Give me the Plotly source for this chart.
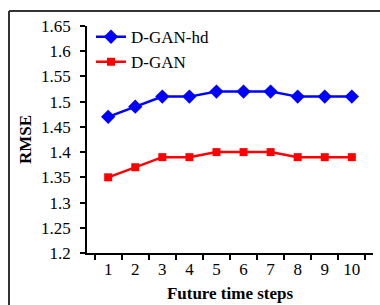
import plotly.graph_objects as go

steps = ["1", "2", "3", "4", "5", "6", "7", "8", "9", "10"]
dgan_hd = [1.47, 1.49, 1.51, 1.51, 1.52, 1.52, 1.52, 1.51, 1.51, 1.51]
dgan = [1.35, 1.37, 1.39, 1.39, 1.40, 1.40, 1.40, 1.39, 1.39, 1.39]
y_ticks = [1.2, 1.25, 1.3, 1.35, 1.4, 1.45, 1.5, 1.55, 1.6, 1.65]
y_ticklabels = ["1.2", "1.25", "1.3", "1.35", "1.4", "1.45", "1.5", "1.55", "1.6", "1.65"]

FONT = "Times New Roman"
FS = 17

fig = go.Figure()
fig.add_trace(go.Scatter(
    x=steps, y=dgan_hd, name="D-GAN-hd", mode="lines+markers",
    line=dict(color="#0000ff", width=2.5),
    marker=dict(symbol="diamond", size=11, color="#0000ff"),
))
fig.add_trace(go.Scatter(
    x=steps, y=dgan, name="D-GAN", mode="lines+markers",
    line=dict(color="#ff0000", width=2.5),
    marker=dict(symbol="square", size=8, color="#ff0000"),
))

L, R, T, B = 87, 7, 26, 52
W, H = 380, 305
pw, ph = W - L - R, H - T - B

def px_x(p):
    return (p - L) / pw

def px_y(p):
    return (H - B - p) / ph

fig.update_layout(
    template="none",
    width=W, height=H,
    margin=dict(l=L, r=R, t=T, b=B, autoexpand=False),
    paper_bgcolor="white", plot_bgcolor="white",
    font=dict(family=FONT, size=FS, color="black"),
    showlegend=True,
    legend=dict(x=0.014, y=1.03, xanchor="left", yanchor="top",
                bgcolor="rgba(0,0,0,0)", font=dict(family=FONT, size=FS),
                tracegroupgap=0, itemwidth=30),
    xaxis=dict(
        type="category", tickson="boundaries", automargin=False,
        showline=True, linecolor="black", linewidth=1.5,
        ticks="outside", ticklen=5, tickcolor="black", tickwidth=1.5,
        showgrid=False, zeroline=False,
        tickfont=dict(family=FONT, size=FS),
        title=dict(text="<b>Future time steps</b>", font=dict(family=FONT, size=FS), standoff=9),
    ),
    yaxis=dict(
        range=[1.2, 1.65], tickvals=y_ticks, ticktext=y_ticklabels, automargin=False,
        showline=True, linecolor="black", linewidth=1.5,
        ticks="outside", ticklen=5, tickcolor="black", tickwidth=1.5,
        showgrid=False, zeroline=False,
        tickfont=dict(family=FONT, size=FS),
        ticklabelstandoff=6,
        title=dict(text="<b>RMSE</b>", font=dict(family=FONT, size=FS), standoff=5),
    ),
)

# outer frame (top and left edges visible)
fig.add_shape(type="line", xref="paper", yref="paper",
              x0=px_x(9), x1=px_x(400), y0=px_y(11), y1=px_y(11),
              line=dict(color="#333333", width=2))
fig.add_shape(type="line", xref="paper", yref="paper",
              x0=px_x(9), x1=px_x(9), y0=px_y(11), y1=px_y(320),
              line=dict(color="#333333", width=2))

fig.write_html("out.html", config={"displayModeBar": False},
               post_script="document.body.style.margin='0';")
